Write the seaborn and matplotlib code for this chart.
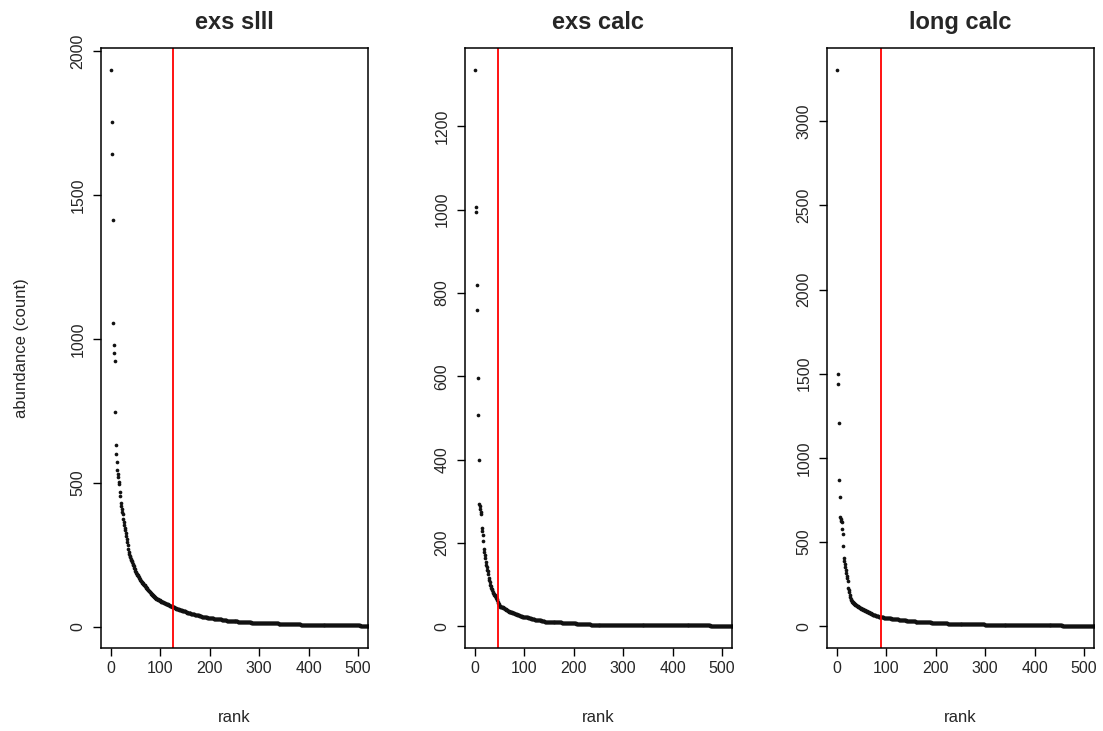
import matplotlib
matplotlib.use("Agg")
import matplotlib.pyplot as plt
import numpy as np
import pandas as pd
import seaborn as sns

# panel titles and the rank where the red cut-off line sits
titles = ["exs slll", "exs calc", "long calc"]
cutoff_ranks = [126, 46, 89]
y_ticks = [
    [0, 500, 1000, 1500, 2000],
    [0, 200, 400, 600, 800, 1000, 1200],
    [0, 500, 1000, 1500, 2000, 2500, 3000],
]
x_ticks = [0, 100, 200, 300, 400, 500]

# abundance of the top ranks, read one by one
exs_slll_head = [
    1934, 1754, 1644, 1413, 1056, 981, 950, 925, 745, 633,
    602, 572, 545, 530, 520, 505, 495, 470, 454, 430,
    420, 410, 400, 391, 375, 366, 355, 345, 335, 325,
    315, 305, 295, 285, 272, 262, 255, 248, 242, 237,
    232, 228, 224, 220, 215, 210, 205, 200, 196, 192,
    188, 185, 182, 179, 176, 173, 170, 167, 164, 161,
    158, 155, 153, 151, 149, 147, 146, 144, 142, 140,
    138, 136, 134, 132, 130, 128, 126, 124, 122, 120,
    118, 116, 114, 112, 110, 108, 106, 105, 103, 101,
]
# tail as (abundance, number of ranks sharing it)
exs_slll_tail = [
    (100, 1), (98, 2), (96, 2), (94, 2), (92, 2), (90, 2), (88, 2), (86, 3),
    (84, 2), (82, 2), (80, 3), (78, 2), (76, 3), (74, 2), (72, 3), (70, 2),
    (68, 3), (66, 3), (64, 3), (62, 3), (60, 3), (58, 3), (56, 3), (54, 4),
    (52, 3), (50, 4), (48, 4), (46, 4), (44, 4), (42, 4),
    (40, 5), (38, 5), (36, 5), (34, 6), (32, 6), (30, 7), (28, 7),
    (26, 9), (24, 10), (22, 11), (20, 12), (18, 13), (16, 14), (15, 15),
    (14, 12), (13, 14), (12, 14), (11, 15), (10, 15), (9, 15), (8, 15),
    (7, 30), (6, 35), (5, 40), (4, 35),
]

exs_calc_head = [
    1335, 1006, 994, 819, 759, 596, 507, 398, 294, 288,
    282, 275, 270, 236, 229, 218, 205, 185, 178, 170,
    163, 155, 148, 142, 136, 132, 125, 116, 110, 105,
    100, 96, 92, 89, 86, 83, 80, 78, 76, 74,
    72, 70, 68, 66, 64, 58, 55, 53, 51, 49,
]
exs_calc_tail = [
    (47, 3), (45, 3), (43, 3), (41, 3), (39, 3), (37, 3), (35, 3), (33, 4),
    (31, 5), (29, 5),
    (27, 5), (25, 5), (23, 6), (21, 6), (19, 6), (17, 7), (15, 7), (14, 6),
    (12, 7),
    (11, 10), (10, 12), (9, 13), (8, 14), (7, 15), (6, 15), (5, 14),
    (4, 60), (3, 70), (2, 112), (1, 65),
]

long_calc_head = [
    3303, 1499, 1441, 1209, 866, 769, 646, 635, 625, 616,
    577, 547, 477, 407, 388, 370, 352, 335, 318, 300,
    285, 268, 228, 215, 200, 185, 172, 163, 156, 149,
    145, 142, 139, 136, 133, 130, 128, 126, 124, 122,
    120, 118, 116, 114, 112, 110,
]
long_calc_tail = [
    (107, 2), (104, 2), (101, 2), (98, 2), (95, 2), (92, 2), (89, 2), (86, 2),
    (83, 2), (80, 2), (77, 2), (74, 2), (71, 2), (68, 3), (65, 3), (62, 3),
    (59, 3), (56, 3), (54, 2),
    (52, 5), (50, 5), (48, 5), (46, 5), (44, 5), (42, 5), (40, 5), (38, 5),
    (36, 5), (34, 5), (32, 5), (30, 4),
    (28, 10), (26, 10), (24, 11), (22, 11), (20, 11), (18, 11), (16, 11),
    (14, 12),
    (13, 15), (12, 15), (11, 15), (10, 18), (9, 18), (8, 18), (7, 18), (6, 18),
    (5, 40), (4, 45), (3, 45), (2, 40),
]


def rank_table(head, tail):
    counts = list(head)
    for value, n in tail:
        counts += [value] * n
    return pd.DataFrame({"rank": np.arange(1, len(counts) + 1), "abundance": counts})


tables = [
    rank_table(exs_slll_head, exs_slll_tail),
    rank_table(exs_calc_head, exs_calc_tail),
    rank_table(long_calc_head, long_calc_tail),
]

sns.set_style("ticks")
plt.rcParams["font.family"] = ["Liberation Sans", "DejaVu Sans"]

fig = plt.figure(figsize=(11.03, 7.31), dpi=100)
lefts = [101 / 1103, 465 / 1103, 827 / 1103]
w, h = 267 / 1103, 600 / 731
bottom = 1 - 648 / 731

for i, df in enumerate(tables):
    ax = fig.add_axes([lefts[i], bottom, w, h])
    sns.scatterplot(data=df, x="rank", y="abundance", ax=ax,
                    color="#111111", s=7, linewidth=0, marker="o")
    ax.axvline(cutoff_ranks[i], color="red", lw=1.3)

    # R-style 4% padding
    ax.set_xlim(-20, 520)
    lo, hi = df["abundance"].min(), df["abundance"].max()
    pad = 0.04 * (hi - lo)
    ax.set_ylim(lo - pad, hi + pad)

    ax.set_xticks(x_ticks)
    ax.set_yticks(y_ticks[i])
    ax.tick_params(axis="both", direction="out", length=6, width=1,
                   labelsize=11.5, color="black")
    ax.tick_params(axis="y", labelrotation=90, pad=5)
    for lab in ax.get_yticklabels():
        lab.set_va("center")
    for sp in ax.spines.values():
        sp.set_visible(True)
        sp.set_linewidth(1.1)
        sp.set_color("black")

    ax.set_title(titles[i], fontsize=17, fontweight="bold", pad=14)
    ax.set_xlabel("rank", fontsize=12, labelpad=24)
    if i == 0:
        ax.set_ylabel("abundance (count)", fontsize=12, labelpad=30)
    else:
        ax.set_ylabel("")

fig.savefig("out.png", dpi=100)
